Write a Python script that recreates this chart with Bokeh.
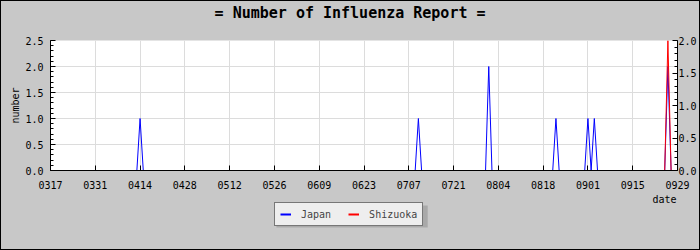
import numpy as np
import pandas as pd
from bokeh.plotting import figure
from bokeh.models import (Range1d, LinearAxis, FixedTicker, DatetimeTickFormatter,
                          PrintfTickFormatter, Legend, LegendItem, ColumnDataSource,
                          Label, BoxAnnotation)
from bokeh.layouts import column
from bokeh.embed import file_html
from bokeh.resources import INLINE

YEAR = "2009"
title_text = "= Number of Influenza Report ="
x_tick_labels = ["0317", "0331", "0414", "0428", "0512", "0526", "0609", "0623",
                 "0707", "0721", "0804", "0818", "0901", "0915", "0929"]

japan_dates = ["0317", "0413", "0414", "0415", "0709", "0710", "0711",
               "0731", "0801", "0802", "0821", "0822", "0823",
               "0831", "0901", "0902", "0903", "0904",
               "0925", "0926", "0927", "0929"]
japan_values = [0, 0, 1, 0, 0, 1, 0,
                0, 2, 0, 0, 1, 0,
                0, 1, 0, 1, 0,
                0, 2, 0, 0]

shizuoka_dates = ["0317", "0925", "0926", "0927", "0929"]
shizuoka_values = [0, 0, 2, 0, 0]

series_names = ["Japan", "Shizuoka"]
series_colors = ["#0000ff", "#ff0000"]

left_ticks = [0.0, 0.5, 1.0, 1.5, 2.0, 2.5]
right_ticks = [0.0, 0.5, 1.0, 1.5, 2.0]

FONT = "DejaVu Sans Mono"
BG = "#c8c8c8"
W = 698          # inside the 1px black border
BL, BR = 49, 19  # shared left / right borders so all frames line up
FW = W - BL - BR


def to_dt(labels):
    return pd.to_datetime([YEAR + s for s in labels], format="%Y%m%d")


def strip(height):
    f = figure(width=W, height=height, x_range=Range1d(0, FW),
               y_range=Range1d(height, 0),
               output_backend="svg", toolbar_location=None,
               x_axis_location=None, y_axis_location=None,
               min_border_left=BL, min_border_right=BR, min_border_top=0,
               min_border_bottom=0,
               background_fill_color=BG, border_fill_color=BG,
               outline_line_color=None)
    f.grid.visible = False
    return f


x_ticks_dt = to_dt(x_tick_labels)
x_ticks_ms = [t.value / 1e6 for t in x_ticks_dt]

# ---------------- title strip ----------------
H0 = 25
p0 = strip(H0)
p0.add_layout(Label(x=301, y=11.3, text=title_text, text_align="center",
                    text_baseline="alphabetic", text_font=FONT,
                    text_font_size="15px", text_font_style="bold",
                    text_color="black"))

# ---------------- main chart ----------------
H1 = 167
p = figure(width=W, height=H1, x_axis_type="datetime",
           x_range=Range1d(x_ticks_dt[0], x_ticks_dt[-1]),
           y_range=Range1d(0, 2.5),
           output_backend="svg", toolbar_location=None,
           min_border_left=BL, min_border_right=BR, min_border_top=14,
           min_border_bottom=23,
           background_fill_color="white", border_fill_color=BG,
           outline_line_color=None)

p.extra_y_ranges = {"right": Range1d(0, 2)}

src_j = ColumnDataSource(dict(x=to_dt(japan_dates), y=japan_values))
src_s = ColumnDataSource(dict(x=to_dt(shizuoka_dates), y=shizuoka_values))
rj = p.line("x", "y", source=src_j, line_color=series_colors[0], line_width=1)
rs = p.line("x", "y", source=src_s, line_color=series_colors[1], line_width=1,
            y_range_name="right")

xa = p.xaxis[0]
xa.ticker = FixedTicker(ticks=x_ticks_ms, minor_ticks=[])
xa.formatter = DatetimeTickFormatter(days="%m%d", months="%m%d", years="%m%d")

ya = p.yaxis[0]
ya.ticker = FixedTicker(ticks=left_ticks,
                        minor_ticks=list(np.round(np.arange(0, 2.51, 0.1), 2)))
ya.formatter = PrintfTickFormatter(format="%.1f")
ya.axis_label = "number"

ra = LinearAxis(y_range_name="right",
                ticker=FixedTicker(ticks=right_ticks,
                                   minor_ticks=list(np.round(np.arange(0, 2.01, 0.1), 2))),
                formatter=PrintfTickFormatter(format="%.1f"))
p.add_layout(ra, "right")

for ax in [xa, ya, ra]:
    ax.major_tick_in = 5
    ax.major_tick_out = 0
    ax.minor_tick_in = 3
    ax.minor_tick_out = 0
    ax.axis_line_color = "black"
    ax.major_tick_line_color = "black"
    ax.minor_tick_line_color = "black"
    ax.major_label_text_font = FONT
    ax.major_label_text_font_size = "10px"
    ax.major_label_text_color = "black"
    ax.axis_label_text_font = FONT
    ax.axis_label_text_font_size = "10px"
    ax.axis_label_text_font_style = "normal"
    ax.axis_label_text_color = "black"

xa.major_label_standoff = 10
ya.major_label_standoff = 7
ya.axis_label_standoff = 1
ra.major_label_standoff = 1

p.xgrid.ticker = FixedTicker(ticks=x_ticks_ms)
p.ygrid.ticker = FixedTicker(ticks=left_ticks)
p.grid.grid_line_color = "#dcdcdc"
p.grid.grid_line_width = 1

# ---------------- strip below: x-axis name and legend ----------------
H2 = 248 - H0 - H1
p2 = strip(H2)

p2.add_layout(Label(x=FW - 1, y=0, text="date", text_align="right",
                    text_baseline="top", text_font=FONT,
                    text_font_size="10px", text_color="black"))

# legend drop shadow
p2.add_layout(BoxAnnotation(left=227, right=379, top=12, bottom=34,
                            fill_color="#a9a9a9", fill_alpha=1,
                            line_color=None))

key_renderers = [p2.line(x=np.array([np.nan]), y=np.array([np.nan]),
                         line_color=c, line_width=2)
                 for c in series_colors]
legend = Legend(items=[LegendItem(label=n, renderers=[r])
                       for n, r in zip(series_names, key_renderers)],
                orientation="horizontal", location=(224, 23),
                background_fill_color="#eeeeee", background_fill_alpha=1,
                border_line_color="black", border_line_width=1,
                label_text_font=FONT, label_text_font_size="10px",
                glyph_width=11, glyph_height=12, label_height=12,
                label_standoff=10, spacing=17, padding=5, margin=0)
p2.add_layout(legend)

root = column(p0, p, p2, width=700, height=250, spacing=0,
              styles={"border": "1px solid black", "overflow": "hidden",
                      "box-sizing": "border-box", "background-color": BG})

open("out.html", "w").write(file_html(root, INLINE))
